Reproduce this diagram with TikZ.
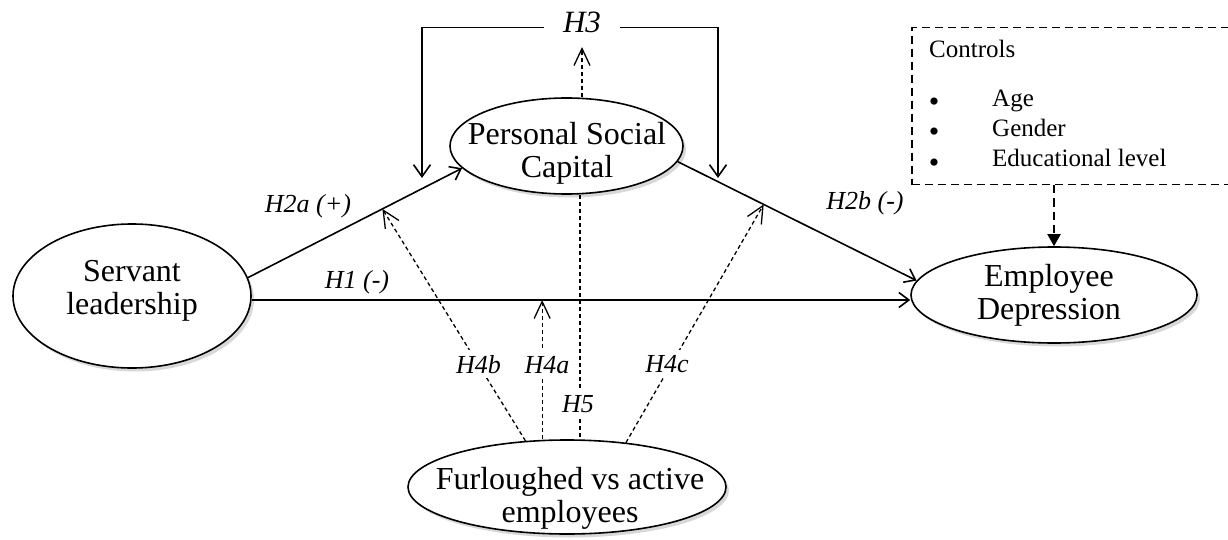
\documentclass[tikz,border=0pt]{standalone}
\usepackage{fontspec}
\setmainfont{Liberation Serif}
\usetikzlibrary{arrows.meta,shapes.geometric,shadows,calc}
\begin{document}
\begin{tikzpicture}[x=1pt,y=-1pt,
  ell/.style={draw, ellipse, line width=1.6pt, fill=white, inner sep=0pt,
    drop shadow={shadow xshift=3pt,shadow yshift=-3.5pt,fill=black!30}},
  etext/.style={align=center, inner sep=0pt, font=\fontsize{32}{33}\selectfont},
  lbl/.style={font=\fontsize{26}{28}\selectfont\itshape, anchor=base, inner sep=0pt},
  lblw/.style={lbl, fill=white, inner xsep=2pt, inner ysep=5pt},
  ctext/.style={font=\fontsize{25}{27}\selectfont, inner sep=0pt},
  btext/.style={font=\fontsize{30}{30}\selectfont, inner sep=0pt, anchor=base, text height=0.5em, text depth=0pt},
  ctrlbox/.style={draw, line width=1.5pt, dash pattern=on 8pt off 5pt, inner sep=0pt},
  sline/.style={line width=1.6pt, -{Straight Barb[length=10pt,width=15pt,line width=1.6pt]}},
  bline/.style={line width=1.6pt, -{Straight Barb[length=12pt,width=17pt,line width=1.6pt]}},
  darrow/.style={line width=1.3pt, dash pattern=on 4pt off 3pt, -{Straight Barb[length=17pt,width=16pt,line width=1.3pt]}},
  dline/.style={line width=1.3pt, dash pattern=on 4pt off 3pt},
  carrow/.style={line width=2pt, dash pattern=on 8pt off 5pt, -{Triangle[length=12pt,width=13pt]}}
]
\useasboundingbox (0,0) rectangle (1228,540);
\clip (0,0) rectangle (1228,540);

% ellipses
\node[ell, minimum width=238pt, minimum height=144pt] (sl) at (132,296) {};
\node[ell, minimum width=233pt, minimum height=96pt] (psc) at (566.5,146) {};
\node[ell, minimum width=286pt, minimum height=96pt] (ed) at (1054,295) {};
\node[ell, minimum width=318pt, minimum height=94pt] (fva) at (567,487) {};

\node[etext] (slt) at (132,291) {Servant\\leadership};
\node[etext] (psct) at (567,153) {Personal Social\\Capital};
\node[etext] (edt) at (1049,295) {Employee\\Depression};
\node[etext] (fvat) at (570,498) {Furloughed vs active\\employees};

% controls box
\node[ctrlbox, anchor=north west, minimum width=340pt, minimum height=157pt] (ctrl) at (911,27) {};
\node[ctext, anchor=base west] (ctl) at (929,58) {Controls};
\node[btext] (b1) at (934,112) {\textbullet};
\node[btext] (b2) at (934,142) {\textbullet};
\node[btext] (b3) at (934,173) {\textbullet};
\node[ctext, anchor=base west] (i1) at (992,107) {Age};
\node[ctext, anchor=base west] (i2) at (992,137) {Gender};
\node[ctext, anchor=base west] (i3) at (992,167) {Educational level};
\draw[carrow] (ctrl.south -| ed.north) -- (ed.north);

% main paths
\coordinate (h1y) at (0,300);
\draw[sline] (sl.9) -- coordinate[pos=0.628] (m2a) (psc.192);
\draw[sline] (sl.east |- h1y) -- coordinate[pos=0.441] (m1) (ed.west |- h1y);
\draw[sline] (psc.-8) -- coordinate[pos=0.36] (m2b) (ed.174);

% H3 bracket
\node[lbl, inner xsep=19pt, font=\fontsize{31}{33}\selectfont\itshape] (h3) at (582,33) {H3};
\coordinate (c3l) at (422,27.5);
\coordinate (c3r) at (718,27.5);
\coordinate (t3l) at (422,178);
\coordinate (t3r) at (718,178);
\coordinate (t3) at (582,47);
\draw[bline] (c3l -| h3.west) -- (c3l) -- (t3l);
\draw[bline] (c3r -| h3.east) -- (c3r) -- (t3r);
\draw[darrow] (psc.north -| t3) -- (t3);

% moderation paths
\coordinate (x5) at (580,300);
\draw[darrow] (fva.north -| m1) -- (m1);
\draw[darrow] (fva.132) -- (m2a);
\draw[darrow] (fva.37) -- (m2b);
\draw[dline] (psc.south -| x5) -- (fva.north -| x5);

% labels
\node[lbl] (h2a) at (308,212) {H2a (+)};
\node[lbl] (h1) at (357,288) {H1 (-)};
\node[lbl] (h2b) at (865,210) {H2b (-)};
\node[lblw] (h4b) at (478.5,373) {H4b};
\node[lblw] (h4a) at (547,373) {H4a};
\node[lblw] (h5) at (578,412) {H5};
\node[lblw] (h4c) at (667,372) {H4c};
\end{tikzpicture}
\end{document}
